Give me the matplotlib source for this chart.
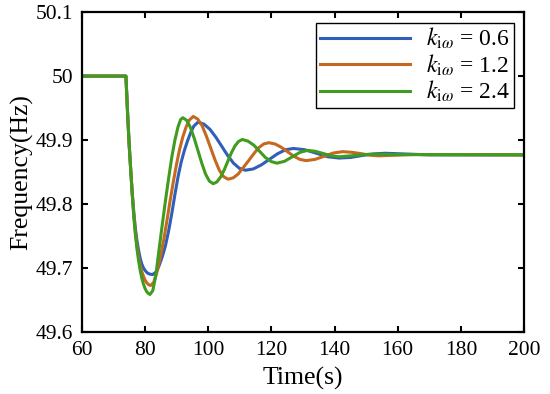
import matplotlib
matplotlib.use("Agg")
import matplotlib.pyplot as plt

plt.rcParams['font.family'] = ['Liberation Serif', 'DejaVu Serif']
plt.rcParams['mathtext.fontset'] = 'stix'

# k_iw = 0.6
t_blue = [60, 74.0, 74.5, 75.0, 75.5, 76.0, 76.5, 77.0, 77.5, 78.0, 78.5, 79.0, 79.5, 80.0, 80.5,
          81.0, 81.5, 82.4, 83.5, 84.5, 85.5, 86.5, 87.5, 88.5, 89.5, 90.5, 91.5, 92.5, 93.5,
          94.5, 95.5, 96.8, 98.7, 100.55, 102.4, 104.3, 106.2, 108.05, 109.9, 111.8, 114.3,
          116.9, 119.4, 121.9, 124.5, 127.0, 130.6, 134.25, 137.9, 141.5, 145.1, 148.75,
          152.4, 156.0, 170.0, 200.0]
f_blue = [50.0, 50.0, 49.945, 49.895, 49.855, 49.818, 49.787, 49.762, 49.743, 49.728, 49.716,
          49.707, 49.701, 49.697, 49.694, 49.692, 49.691, 49.690, 49.694, 49.704, 49.718, 49.735,
          49.758, 49.785, 49.815, 49.843, 49.866, 49.884, 49.899, 49.912, 49.922, 49.928,
          49.925, 49.917, 49.905, 49.8905, 49.876, 49.864, 49.856, 49.853, 49.855, 49.8615,
          49.870, 49.8785, 49.885, 49.887, 49.885, 49.8795, 49.874, 49.872, 49.873, 49.876,
          49.8785, 49.8795, 49.877, 49.877]

# k_iw = 1.2
t_orange = [60, 74.0, 74.5, 75.0, 75.5, 76.0, 76.5, 77.0, 77.5, 78.0, 78.5, 79.0, 79.5, 80.0,
            80.5, 81.0, 81.8, 82.8, 84.0, 85.0, 86.0, 87.0, 88.0, 89.0, 90.0, 91.0, 92.0, 93.0,
            94.0, 95.3, 96.7, 98.05, 99.4, 100.8, 102.2, 103.55, 104.9, 106.3, 107.9, 109.5,
            111.1, 112.75, 114.35, 115.95, 117.6, 119.2, 121.2, 123.1, 125.1, 127.1, 129.0,
            131.0, 133.9, 136.8, 139.7, 142.6, 145.45, 148.3, 151.15, 154.0, 165.0, 200.0]
f_orange = [50.0, 50.0, 49.945, 49.895, 49.855, 49.816, 49.783, 49.756, 49.735, 49.718, 49.705,
            49.695, 49.688, 49.682, 49.678, 49.675, 49.673, 49.678, 49.697, 49.720, 49.745,
            49.775, 49.806, 49.835, 49.862, 49.886, 49.905, 49.920, 49.931, 49.937, 49.933,
            49.923, 49.907, 49.888, 49.869, 49.853, 49.843, 49.839, 49.841, 49.847, 49.857,
            49.8675, 49.878, 49.888, 49.894, 49.896, 49.894, 49.889, 49.882, 49.875, 49.870,
            49.868, 49.870, 49.875, 49.880, 49.882, 49.881, 49.879, 49.8765, 49.8755, 49.8775,
            49.877]

# k_iw = 2.4
t_green = [60, 74.0, 74.5, 75.0, 75.5, 76.0, 76.5, 77.0, 77.5, 78.0, 78.5, 79.0, 79.5, 80.0,
           80.5, 81.0, 81.6, 82.5, 83.5, 84.5, 85.5, 86.5, 87.5, 88.5, 89.5, 90.5, 91.3, 92.0,
           93.2, 94.4, 95.6, 96.8, 98.0, 99.2, 100.4, 101.6, 102.75, 103.9, 105.05, 106.2,
           107.35, 108.5, 109.65, 110.8, 112.6, 114.5, 116.3, 118.1, 120.0, 121.8, 124.2,
           126.65, 129.1, 131.5, 134.0, 136.5, 139.0, 141.5, 151.0, 160.0, 200.0]
f_green = [50.0, 50.0, 49.945, 49.895, 49.855, 49.815, 49.780, 49.752, 49.730, 49.712, 49.697,
           49.685, 49.676, 49.669, 49.664, 49.661, 49.659, 49.665, 49.690, 49.730, 49.768,
           49.805, 49.840, 49.873, 49.900, 49.921, 49.932, 49.935, 49.931, 49.920, 49.903,
           49.8835, 49.864, 49.847, 49.836, 49.832, 49.8346, 49.842, 49.853, 49.8665, 49.880,
           49.891, 49.898, 49.901, 49.8985, 49.892, 49.8825, 49.873, 49.8665, 49.864, 49.867,
           49.874, 49.881, 49.884, 49.8825, 49.879, 49.8755, 49.874, 49.878, 49.8775, 49.877]

labels = [r'$k_{\mathrm{i}\omega}$ = 0.6', r'$k_{\mathrm{i}\omega}$ = 1.2', r'$k_{\mathrm{i}\omega}$ = 2.4']
colors = ['#2f5fb8', '#c4691f', '#3f9c1f']

fig = plt.figure(figsize=(5.5, 3.94), dpi=100)
ax = fig.add_axes([0.1485, 0.1566, 0.8045, 0.8129])

ax.plot(t_blue, f_blue, color=colors[0], lw=2.2, label=labels[0])
ax.plot(t_orange, f_orange, color=colors[1], lw=2.2, label=labels[1])
ax.plot(t_green, f_green, color=colors[2], lw=2.2, label=labels[2])

ax.set_xlim(60, 200)
ax.set_ylim(49.6, 50.1)
ax.set_xticks([60, 80, 100, 120, 140, 160, 180, 200])
ax.set_yticks([49.6, 49.7, 49.8, 49.9, 50.0, 50.1])
ax.set_yticklabels(['49.6', '49.7', '49.8', '49.9', '50', '50.1'])
ax.tick_params(direction='in', top=True, right=True, length=4, width=1.5, labelsize=15.5,
               pad=6)
for s in ax.spines.values():
    s.set_linewidth(1.6)

ax.set_xlabel('Time(s)', fontsize=18.5, labelpad=5)
ax.set_ylabel('Frequency(Hz)', fontsize=18.5, labelpad=2)

leg = ax.legend(loc='upper right', fontsize=17, fancybox=False, edgecolor='black',
                framealpha=1, handlelength=3.8, handletextpad=0.7, labelspacing=0.05,
                borderpad=0.15, borderaxespad=0.45)
leg.get_frame().set_linewidth(1.0)

fig.savefig('out.png', dpi=100)
